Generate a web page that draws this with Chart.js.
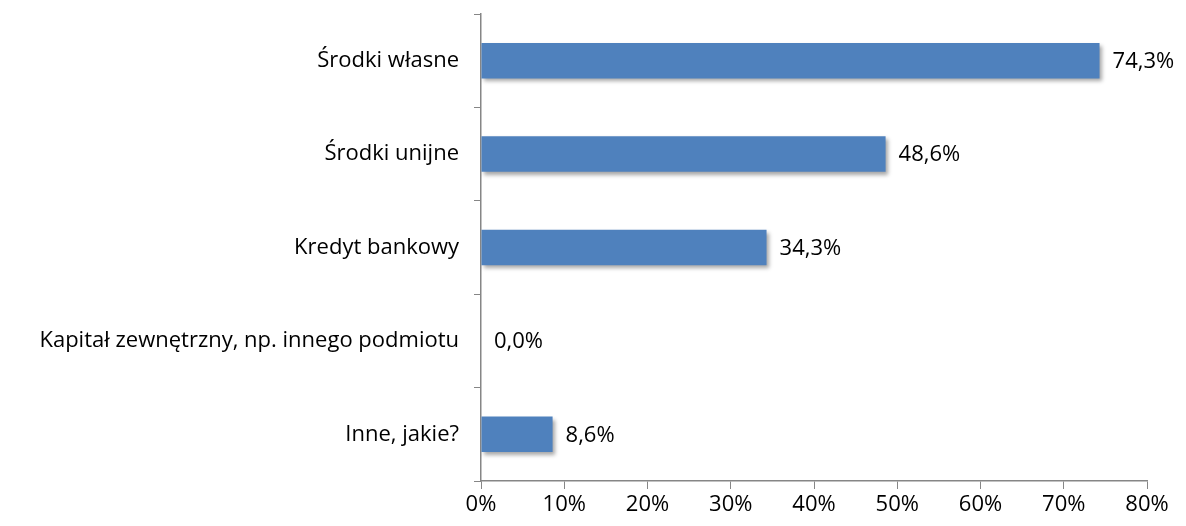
<!DOCTYPE html>
<html>
<head>
<meta charset="utf-8">
<script src="https://cdn.jsdelivr.net/npm/chart.js@4/dist/chart.umd.min.js"></script>
<style>
  html, body { margin: 0; padding: 0; background: #fff; }
  #wrap { width: 1186px; height: 526px; }
</style>
</head>
<body>
<div id="wrap"><canvas id="chart"></canvas></div>
<script>
const categories = ['Środki własne', 'Środki unijne', 'Kredyt bankowy', 'Kapitał zewnętrzny, np. innego podmiotu', 'Inne, jakie?'];
const values = [74.3, 48.6, 34.3, 0.0, 8.6];

const barColor = '#4f81bd';
const axisColor = '#868686';
const fontFamily = '"Open Sans", "Liberation Sans", sans-serif';
const fontSize = 22;

// cien pod slupkami
const shadowPlugin = {
  id: 'barShadow',
  beforeDatasetsDraw(chart) {
    const ctx = chart.ctx;
    ctx.save();
    ctx.shadowColor = 'rgba(0,0,0,0.35)';
    ctx.shadowBlur = 4;
    ctx.shadowOffsetX = 2;
    ctx.shadowOffsetY = 3;
  },
  afterDatasetsDraw(chart) {
    chart.ctx.restore();
  }
};

// etykiety wartosci
const valueLabels = {
  id: 'valueLabels',
  afterDatasetsDraw(chart) {
    const ctx = chart.ctx;
    const meta = chart.getDatasetMeta(0);
    ctx.save();
    ctx.font = fontSize + 'px ' + fontFamily;
    ctx.fillStyle = '#000';
    ctx.textBaseline = 'middle';
    ctx.textAlign = 'left';
    meta.data.forEach((bar, i) => {
      const txt = values[i].toFixed(1).replace('.', ',') + '%';
      ctx.fillText(txt, bar.x + 13, bar.y + 1);
    });
    ctx.restore();
  }
};

new Chart(document.getElementById('chart'), {
  type: 'bar',
  data: {
    labels: categories,
    datasets: [{
      data: values,
      backgroundColor: barColor,
      borderWidth: 0,
      barPercentage: 0.38,
      categoryPercentage: 1.0
    }]
  },
  options: {
    indexAxis: 'y',
    responsive: true,
    maintainAspectRatio: false,
    animation: false,
    layout: { padding: { top: 14, right: 39, bottom: 0, left: 0 } },
    plugins: {
      legend: { display: false },
      tooltip: { enabled: false }
    },
    scales: {
      x: {
        min: 0,
        max: 80,
        ticks: {
          stepSize: 10,
          color: '#000',
          padding: 3,
          font: { family: fontFamily, size: fontSize },
          callback: v => v + '%'
        },
        grid: {
          drawOnChartArea: false,
          color: axisColor,
          tickLength: 8,
          tickColor: axisColor
        },
        border: { color: axisColor, width: 1.5 },
        afterFit(scale) { scale.height = 45; }
      },
      y: {
        offset: true,
        ticks: {
          color: '#000',
          padding: 15,
          font: { family: fontFamily, size: fontSize }
        },
        grid: {
          drawOnChartArea: false,
          offset: true,
          color: axisColor,
          tickLength: 7,
          tickColor: axisColor
        },
        border: { color: axisColor, width: 1.5 },
        afterFit(scale) {
          scale.width = 481;
          scale.paddingTop = 0;
          scale.paddingBottom = 0;
        }
      }
    }
  },
  plugins: [shadowPlugin, valueLabels]
});
</script>
</body>
</html>
